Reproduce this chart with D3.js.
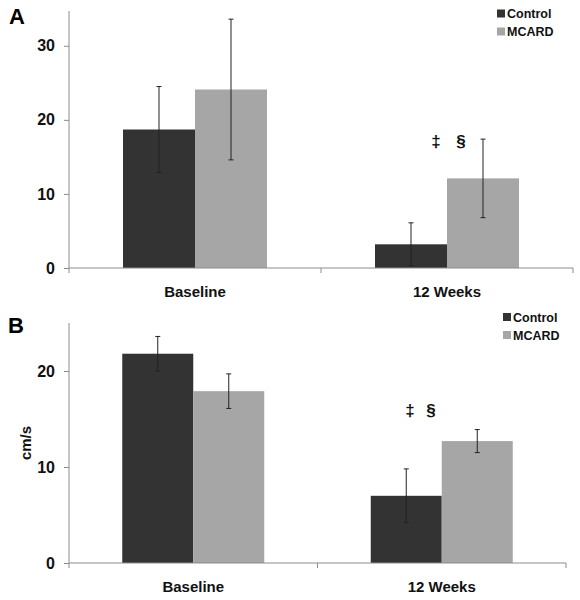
<!DOCTYPE html>
<html><head><meta charset="utf-8">
<script src="https://cdn.jsdelivr.net/npm/d3@7"></script>
<style>body{margin:0;background:#fff;} text{font-family:"Liberation Sans",Arial,sans-serif;font-weight:bold;}</style>
</head><body><svg id="c" width="580" height="600"></svg>
<script>
const categories = ["Baseline", "12 Weeks"];
const seriesNames = ["Control", "MCARD"];
const colors = ["#333333", "#a6a6a6"];
// Panel A
const aControl = [18.7, 3.2];
const aControlErr = [5.8, 2.9];
const aMCARD = [24.1, 12.1];
const aMCARDErr = [9.5, 5.3];
const aTicks = [0, 10, 20, 30];
// Panel B
const bControl = [21.8, 7.0];
const bControlErr = [1.8, 2.8];
const bMCARD = [17.9, 12.7];
const bMCARDErr = [1.8, 1.2];
const bTicks = [0, 10, 20];

const svg = d3.select("#c");

function panel(cfg){
  const g = svg.append("g");
  const x = d3.scaleBand().domain(categories).range([cfg.x0, cfg.x1]).paddingInner(0).paddingOuter(0);
  const x1 = d3.scaleBand().domain(seriesNames).range([0, x.bandwidth()]).paddingOuter(0.75).paddingInner(0);
  const y = d3.scaleLinear().domain([0, cfg.max]).range([cfg.y0, cfg.yTop]);
  const data = categories.map((c,i)=>seriesNames.map((s,j)=>({c, s, j, v: cfg.vals[j][i], e: cfg.errs[j][i]}))).flat();
  // bars
  g.selectAll("rect.bar").data(data).enter().append("rect")
    .attr("x", d=>x(d.c)+x1(d.s)).attr("width", x1.bandwidth())
    .attr("y", d=>y(d.v)).attr("height", d=>y(0)-y(d.v))
    .attr("fill", d=>colors[d.j]);
  // y axis
  const ya = g.append("g").attr("transform",`translate(${cfg.x0},0)`)
    .call(d3.axisLeft(y).tickValues(cfg.ticks).tickSize(5).tickFormat(d3.format("d")));
  ya.select(".domain").attr("stroke","#8c8c8c").attr("d",`M0,${cfg.yTop}V${cfg.y0}`);
  ya.selectAll(".tick line").attr("stroke","#8c8c8c");
  ya.selectAll(".tick text").attr("font-size",16).attr("fill","#111").attr("x",-14);
  // x axis
  const xa = g.append("g").attr("transform",`translate(0,${cfg.y0})`);
  xa.append("line").attr("x1",cfg.x0).attr("x2",cfg.x1).attr("stroke","#8c8c8c");
  const edges = [cfg.x0, ...categories.map(c=>x(c)+x.bandwidth())];
  xa.selectAll("line.t").data(edges).enter().append("line")
    .attr("x1",d=>d).attr("x2",d=>d).attr("y1",0).attr("y2",5).attr("stroke","#8c8c8c");
  xa.selectAll("text").data(categories).enter().append("text")
    .attr("x",d=>x(d)+x.bandwidth()/2).attr("y",29).attr("text-anchor","middle")
    .attr("font-size",15).attr("fill","#111").text(d=>d);
  // error bars
  const eb = g.selectAll("g.err").data(data).enter().append("g")
    .attr("transform", d=>`translate(${x(d.c)+x1(d.s)+x1.bandwidth()/2},0)`);
  eb.append("line").attr("y1",d=>y(d.v+d.e)).attr("y2",d=>y(d.v-d.e)).attr("stroke","#222").attr("stroke-width",1);
  eb.append("line").attr("x1",-2.5).attr("x2",2.5).attr("y1",d=>y(d.v+d.e)).attr("y2",d=>y(d.v+d.e)).attr("stroke","#222");
  eb.append("line").attr("x1",-2.5).attr("x2",2.5).attr("y1",d=>y(d.v-d.e)).attr("y2",d=>y(d.v-d.e)).attr("stroke","#222");
  // significance markers
  g.append("text").attr("x",cfg.markX[0]).attr("y",cfg.markY).attr("text-anchor","middle").attr("font-size",17).attr("fill","#111").text("‡");
  g.append("text").attr("x",cfg.markX[1]).attr("y",cfg.markY).attr("text-anchor","middle").attr("font-size",17).attr("fill","#111").text("§");
  // legend
  const lg = g.selectAll("g.leg").data(seriesNames).enter().append("g")
    .attr("transform",(d,i)=>`translate(${cfg.legX},${cfg.legY+i*18})`);
  lg.append("rect").attr("x",0).attr("y",-4).attr("width",8).attr("height",8).attr("fill",(d,i)=>colors[i]);
  lg.append("text").attr("x",10).attr("y",4.5).attr("font-size",12.5).attr("fill","#111").text(d=>d);
  // panel letter
  g.append("text").attr("x",cfg.letX).attr("y",cfg.letY).attr("font-size",22).attr("fill","#000").text(cfg.letter);
  if(cfg.ylabel){
    g.append("text").attr("transform",`translate(31,${(cfg.y0+cfg.yTop)/2}) rotate(-90)`)
      .attr("text-anchor","middle").attr("font-size",15).attr("fill","#111").text(cfg.ylabel);
  }
}

panel({x0:69, x1:573, y0:268, yTop:11, max:34.7, ticks:aTicks,
  vals:[aControl,aMCARD], errs:[aControlErr,aMCARDErr],
  markX:[436,461], markY:147, legX:497, legY:13.5, letter:"A", letX:9, letY:24});
panel({x0:69, x1:566, y0:563, yTop:323, max:25, ticks:bTicks,
  vals:[bControl,bMCARD], errs:[bControlErr,bMCARDErr],
  markX:[410,431], markY:416, legX:503, legY:317, letter:"B", letX:8, letY:333, ylabel:"cm/s"});
</script></body></html>
